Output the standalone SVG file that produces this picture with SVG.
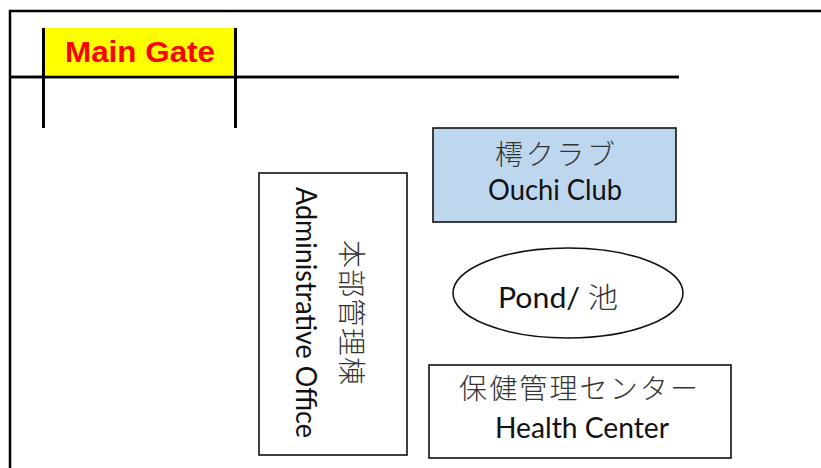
<svg xmlns="http://www.w3.org/2000/svg" width="821" height="468" viewBox="0 0 821 468">
<style>
.wall{stroke:#000;stroke-width:2.5;fill:none}
.post{stroke:#000;stroke-width:3;fill:none}
.box{stroke:#111;stroke-width:1.6}
.jp{font-family:"Noto Sans CJK JP","Noto Sans",sans-serif;font-size:28px;font-weight:300;fill:#333}
.en{font-family:Lato,"Noto Sans",sans-serif;font-size:28px;fill:#111}
</style>
<rect width="821" height="468" fill="#fff"/>
<g id="walls">
<polyline class="wall" points="10,468 10,11 821,11"/>
<line class="wall" x1="9" y1="77" x2="679" y2="77"/>
</g>
<g id="main-gate">
<rect x="44" y="28" width="191" height="49" fill="#ffff00"/>
<line class="post" x1="43.5" y1="28" x2="43.5" y2="128"/>
<line class="post" x1="235.5" y1="28" x2="235.5" y2="128"/>
<line class="wall" x1="9" y1="77" x2="679" y2="77"/>
<text x="65" y="62" textLength="150" lengthAdjust="spacingAndGlyphs" font-family="'Liberation Sans',Arial,sans-serif" font-weight="bold" font-size="29" fill="#ff0000">Main Gate</text>
</g>
<g id="ouchi-club">
<rect class="box" x="433" y="128" width="243" height="94" fill="#bdd7ee"/>
<text class="jp" x="495" y="165" textLength="120" lengthAdjust="spacing">樗クラブ</text>
<text class="en" x="488" y="200" textLength="134" lengthAdjust="spacingAndGlyphs">Ouchi Club</text>
</g>
<g id="admin-office">
<rect class="box" x="259" y="173" width="148" height="282" fill="#fff"/>
<text class="jp" x="240" y="-341" transform="rotate(90)" textLength="145" lengthAdjust="spacing">本部管理棟</text>
<text class="en" x="187" y="-296" transform="rotate(90)" textLength="251" lengthAdjust="spacingAndGlyphs">Administrative Office</text>
</g>
<g id="pond">
<ellipse class="box" cx="568" cy="293" rx="115" ry="45" fill="#fff"/>
<text class="en" x="498" y="308" textLength="120" lengthAdjust="spacingAndGlyphs">Pond/ <tspan class="jp">池</tspan></text>
</g>
<g id="health-center">
<rect class="box" x="429" y="365" width="302" height="93" fill="#fff"/>
<text class="jp" x="459" y="399" textLength="239" lengthAdjust="spacing">保健管理センター</text>
<text class="en" x="495" y="438" textLength="174" lengthAdjust="spacingAndGlyphs">Health Center</text>
</g>
<g id="connectors"/>
</svg>
